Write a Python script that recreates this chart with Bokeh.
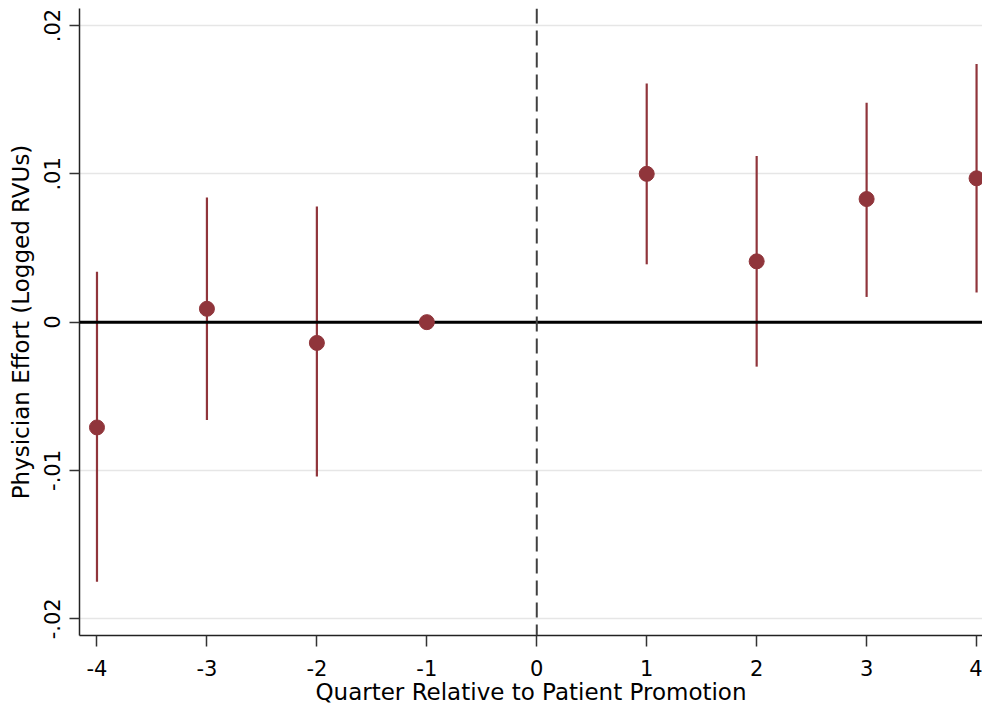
import math
from bokeh.plotting import figure
from bokeh.models import ColumnDataSource, Span, Range1d, FixedTicker
from bokeh.embed import file_html
from bokeh.resources import INLINE

# ---- data ----
quarters = [-4, -3, -2, -1, 1, 2, 3, 4]
coef = [-0.0071, 0.0009, -0.0014, 0.0, 0.0100, 0.0041, 0.0083, 0.0097]
ci_low = [-0.0175, -0.0066, -0.0104, float("nan"), 0.0039, -0.0030, 0.0017, 0.0020]
ci_high = [0.0034, 0.0084, 0.0078, float("nan"), 0.0161, 0.0112, 0.0148, 0.0174]

x_ticks = [-4, -3, -2, -1, 0, 1, 2, 3, 4]
x_tick_labels = ["-4", "-3", "-2", "-1", "0", "1", "2", "3", "4"]
y_ticks = [-0.02, -0.01, 0, 0.01, 0.02]
y_tick_labels = ["-.02", "-.01", "0", ".01", ".02"]

x_title = "Quarter Relative to Patient Promotion"
y_title = "Physician Effort (Logged RVUs)"

MARKER = "#90353B"
FONT = "DejaVu Sans"

src = ColumnDataSource(dict(x=quarters, y=coef, lo=ci_low, hi=ci_high))

p = figure(width=982, height=709, output_backend="svg", toolbar_location=None,
           x_range=Range1d(-4.159, 4.054), y_range=Range1d(-0.02113, 0.02115),
           min_border_left=79, min_border_right=0, min_border_top=8, min_border_bottom=74)
p.outline_line_color = None
p.background_fill_color = "white"
p.border_fill_color = "white"

# grids
p.xgrid.visible = False
p.ygrid.grid_line_color = "#e6e6e6"
p.ygrid.grid_line_width = 1.5

# axes
p.xaxis.ticker = FixedTicker(ticks=x_ticks)
p.xaxis.major_label_overrides = {t: l for t, l in zip(x_ticks, x_tick_labels)}
p.yaxis.ticker = FixedTicker(ticks=y_ticks)
p.yaxis.major_label_overrides = {t: l for t, l in zip(y_ticks, y_tick_labels)}
p.yaxis.major_label_orientation = "vertical"
for ax in (p.xaxis, p.yaxis):
    ax.axis_line_color = "#222222"
    ax.axis_line_width = 1.5
    ax.major_tick_line_color = "#333333"
    ax.major_tick_line_width = 1.5
    ax.major_tick_in = 0
    ax.minor_tick_line_color = None
    ax.major_label_text_font = FONT
    ax.major_label_text_font_size = "21px"
    ax.major_label_text_color = "black"
    ax.axis_label_text_font = FONT
    ax.axis_label_text_font_size = "23px"
    ax.axis_label_text_font_style = "normal"
    ax.axis_label_text_color = "black"
p.xaxis.major_tick_out = 11
p.yaxis.major_tick_out = 10
p.xaxis.major_label_standoff = 13
p.yaxis.major_label_standoff = 9
p.xaxis.axis_label_standoff = 0
p.yaxis.axis_label_standoff = 8
p.xaxis.axis_label = x_title
p.yaxis.axis_label = y_title

# reference lines
p.add_layout(Span(location=0, dimension="width", line_color="black", line_width=3))
p.add_layout(Span(location=0, dimension="height", line_color="#404040",
                  line_width=2, line_dash="15 7"))

# error bars and points
p.segment(x0="x", y0="lo", x1="x", y1="hi", source=src,
          line_color=MARKER, line_width=2.2)
p.scatter(x="x", y="y", source=src, size=15, marker="circle",
          fill_color=MARKER, line_color=MARKER, level="overlay")

open("out.html", "w").write(file_html(p, INLINE))
